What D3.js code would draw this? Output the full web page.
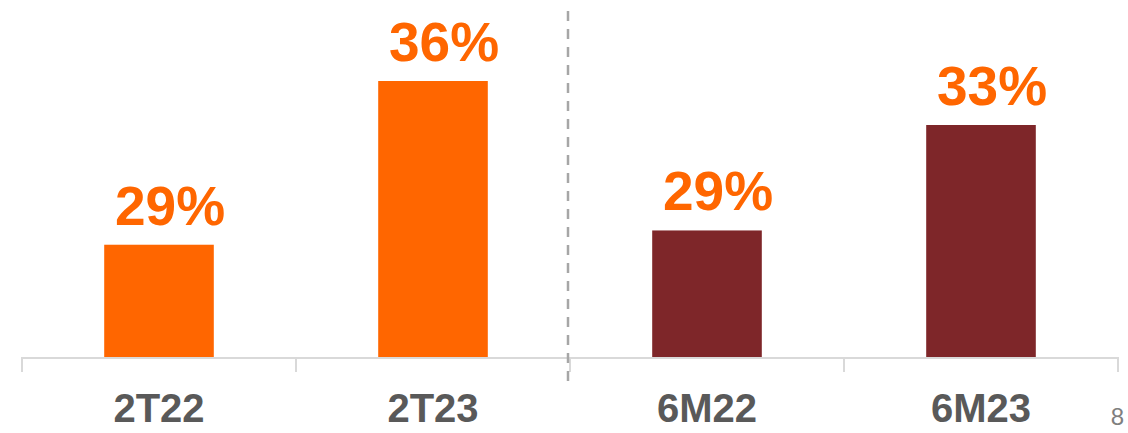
<!DOCTYPE html>
<html><head><meta charset="utf-8">
<script src="https://cdn.jsdelivr.net/npm/d3@7"></script>
<style>html,body{margin:0;padding:0;background:#fff;overflow:hidden}</style>
</head><body>
<svg id="c" width="1128" height="433"></svg>
<script>
// Data: two side-by-side panels, each its own auto-scaled chart
const categories = ["2T22", "2T23", "6M22", "6M23"];
const values = [29, 36, 29, 33];
const panels = ["quarter", "quarter", "semester", "semester"];
const barColors = ["#FF6600", "#FF6600", "#7E2629", "#7E2629"];
const pageNumber = "8";

const svg = d3.select("#c");
const left = 22, right = 1118, base = 357;

const x = d3.scaleBand().domain(categories).range([left, right]).paddingInner(0.6).paddingOuter(0.3);
const xb = d3.scaleBand().domain(categories).range([left, right]);

// each panel has its own value axis (baseline not at zero)
const yQ = d3.scaleLinear().domain([24.2, 36]).range([base, 81]);
const yS = d3.scaleLinear().domain([24.2, 33]).range([base, 125]);
const yOf = i => panels[i] === "quarter" ? yQ : yS;

// axis line + boundary ticks
const g = svg.append("g");
g.append("line").attr("x1", left).attr("x2", right).attr("y1", base + 1).attr("y2", base + 1)
  .attr("stroke", "#d9d9d9").attr("stroke-width", 2);
const bounds = categories.map(c => xb(c)).concat([right]);
g.selectAll("line.tick").data(bounds).join("line").attr("class", "tick")
  .attr("x1", d => d).attr("x2", d => d).attr("y1", base).attr("y2", base + 15)
  .attr("stroke", "#d9d9d9").attr("stroke-width", 2);

// bars
svg.selectAll("rect.bar").data(values).join("rect").attr("class", "bar")
  .attr("x", (d, i) => x(categories[i]))
  .attr("width", x.bandwidth())
  .attr("y", (d, i) => yOf(i)(d))
  .attr("height", (d, i) => base - yOf(i)(d))
  .attr("fill", (d, i) => barColors[i]);

// value labels
svg.selectAll("text.val").data(values).join("text").attr("class", "val")
  .attr("x", (d, i) => x(categories[i]) + x.bandwidth() / 2 + 11)
  .attr("y", (d, i) => yOf(i)(d) - 20)
  .attr("text-anchor", "middle")
  .attr("font-family", "Liberation Sans, Arial, sans-serif")
  .attr("font-weight", "bold").attr("font-size", 55)
  .attr("fill", "#FF6600")
  .text(d => d + "%");

// category labels
svg.selectAll("text.cat").data(categories).join("text").attr("class", "cat")
  .attr("x", d => x(d) + x.bandwidth() / 2)
  .attr("y", 422)
  .attr("text-anchor", "middle")
  .attr("font-family", "Liberation Sans, Arial, sans-serif")
  .attr("font-weight", "bold").attr("font-size", 40)
  .attr("fill", "#595959")
  .text(d => d);

// dashed separator between panels
const sepX = xb("6M22") - 2;
svg.append("line").attr("x1", sepX).attr("x2", sepX).attr("y1", 11).attr("y2", 388)
  .attr("stroke", "#a6a6a6").attr("stroke-width", 2.5).attr("stroke-dasharray", "10,8");

// page number, kept fully inside the frame
svg.append("text").attr("x", 1124).attr("y", 425)
  .attr("text-anchor", "end")
  .attr("font-family", "Liberation Sans, Arial, sans-serif")
  .attr("font-size", 24).attr("fill", "#7f7f7f").text(pageNumber);
</script>
</body></html>
